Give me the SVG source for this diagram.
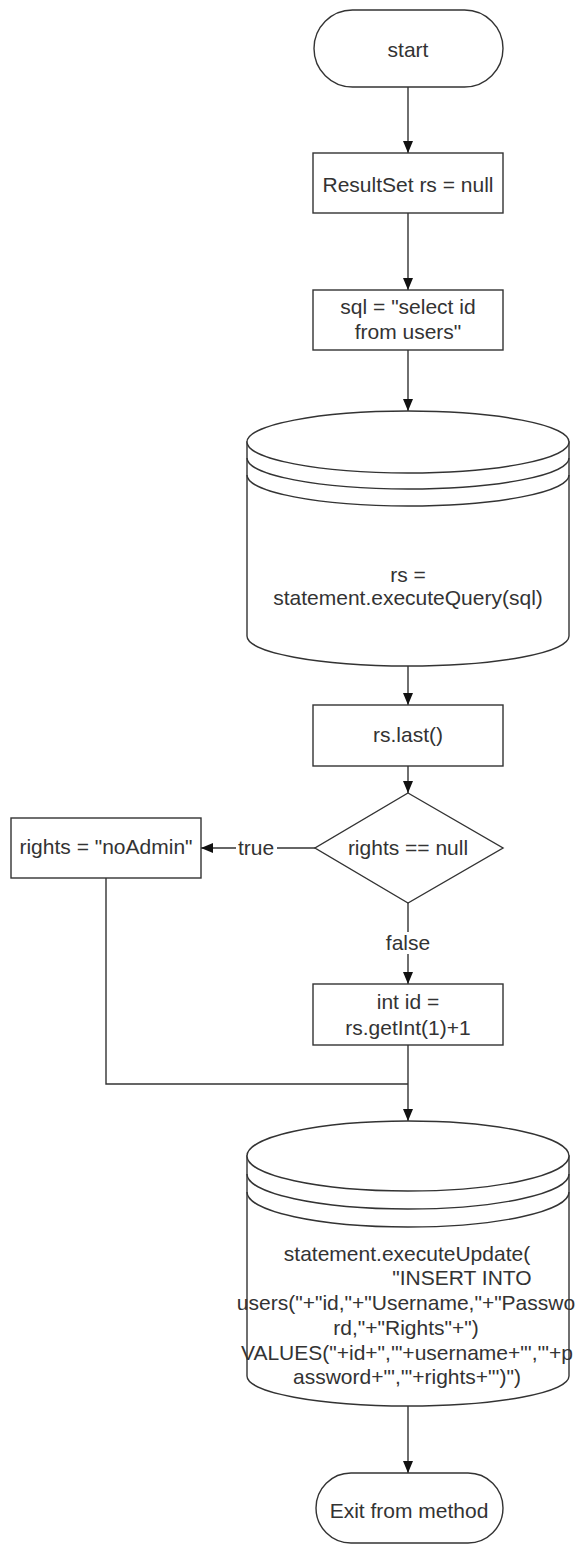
<svg xmlns="http://www.w3.org/2000/svg" width="587" height="1547" viewBox="0 0 587 1547">
  <style>
    .shape { fill: #ffffff; stroke: #333333; stroke-width: 1.4; }
    .line { fill: none; stroke: #333333; stroke-width: 1.4; }
    .label { font-family: "Liberation Sans", Arial, sans-serif; font-size: 21px; fill: #333333; text-anchor: middle; }
    .tag { fill: #ffffff; stroke: none; }
  </style>
  <defs>
    <marker id="arrow" viewBox="0 0 12 10" refX="12" refY="5" markerWidth="12" markerHeight="10" markerUnits="userSpaceOnUse" orient="auto">
      <path d="M0,0 L12,5 L0,10 Z" fill="#111111"/>
    </marker>
  </defs>
  <rect width="587" height="1547" fill="#ffffff"/>

  <!-- connectors -->
  <g id="connectors">
    <path class="line" d="M408,87 L408,153" marker-end="url(#arrow)"/>
    <path class="line" d="M408,213 L408,290" marker-end="url(#arrow)"/>
    <path class="line" d="M408,350 L408,411" marker-end="url(#arrow)"/>
    <path class="line" d="M408,666 L408,705" marker-end="url(#arrow)"/>
    <path class="line" d="M408,766 L408,793" marker-end="url(#arrow)"/>
    <path class="line" d="M315,848 L201,848" marker-end="url(#arrow)"/>
    <path class="line" d="M408,903 L408,984" marker-end="url(#arrow)"/>
    <path class="line" d="M408,1045 L408,1121" marker-end="url(#arrow)"/>
    <path class="line" d="M106,878 L106,1084 L408,1084"/>
    <path class="line" d="M408,1406 L408,1473" marker-end="url(#arrow)"/>
    <rect class="tag" x="236" y="838" width="41" height="20"/>
    <text class="label" x="256" y="855">true</text>
    <rect class="tag" x="385" y="932" width="46" height="22"/>
    <text class="label" x="408" y="950">false</text>
  </g>

  <g id="start">
    <rect class="shape" x="314" y="10" width="189" height="77" rx="38.5" ry="38.5"/>
    <text class="label" x="408" y="57">start</text>
  </g>

  <g id="init-rs">
    <rect class="shape" x="313" y="153" width="190" height="60"/>
    <text class="label" x="408" y="192">ResultSet rs = null</text>
  </g>

  <g id="init-sql">
    <rect class="shape" x="313" y="290" width="190" height="60"/>
    <text class="label" x="408" y="314">sql = "select id</text>
    <text class="label" x="408" y="339">from users"</text>
  </g>

  <g id="query">
    <path class="shape" d="M247,442 L247,636 A161,30 0 0 0 569,636 L569,442 Z"/>
    <ellipse class="shape" cx="408" cy="442" rx="161" ry="31"/>
    <path class="line" d="M247,458 A161,31 0 0 0 569,458"/>
    <path class="line" d="M247,475 A161,31 0 0 0 569,475"/>
    <text class="label" x="408" y="582">rs =</text>
    <text class="label" x="408" y="605">statement.executeQuery(sql)</text>
  </g>

  <g id="last">
    <rect class="shape" x="313" y="705" width="190" height="61"/>
    <text class="label" x="408" y="742">rs.last()</text>
  </g>

  <g id="check-rights">
    <polygon class="shape" points="408,793 503,848 408,903 315,848"/>
    <text class="label" x="408" y="855">rights == null</text>
  </g>

  <g id="no-admin">
    <rect class="shape" x="11" y="818" width="190" height="60"/>
    <text class="label" x="106" y="854">rights = "noAdmin"</text>
  </g>

  <g id="next-id">
    <rect class="shape" x="313" y="984" width="190" height="61"/>
    <text class="label" x="408" y="1009">int id =</text>
    <text class="label" x="408" y="1035">rs.getInt(1)+1</text>
  </g>

  <g id="insert">
    <path class="shape" d="M247,1156 L247,1376 A161,30 0 0 0 569,1376 L569,1156 Z"/>
    <ellipse class="shape" cx="408" cy="1156" rx="161" ry="35"/>
    <path class="line" d="M247,1174 A161,35 0 0 0 569,1174"/>
    <path class="line" d="M247,1192 A161,35 0 0 0 569,1192"/>
    <text class="label" x="407" y="1261">statement.executeUpdate(</text>
    <text class="label" x="462" y="1285">"INSERT INTO</text>
    <text class="label" x="406" y="1310">users("+"id,"+"Username,"+"Passwo</text>
    <text class="label" x="406" y="1335">rd,"+"Rights"+")</text>
    <text class="label" x="407" y="1360">VALUES("+id+",'"+username+"','"+p</text>
    <text class="label" x="407" y="1384">assword+"','"+rights+"')")</text>
  </g>

  <g id="exit">
    <rect class="shape" x="316" y="1473" width="187" height="70" rx="35" ry="35"/>
    <text class="label" x="409" y="1518">Exit from method</text>
  </g>
</svg>
